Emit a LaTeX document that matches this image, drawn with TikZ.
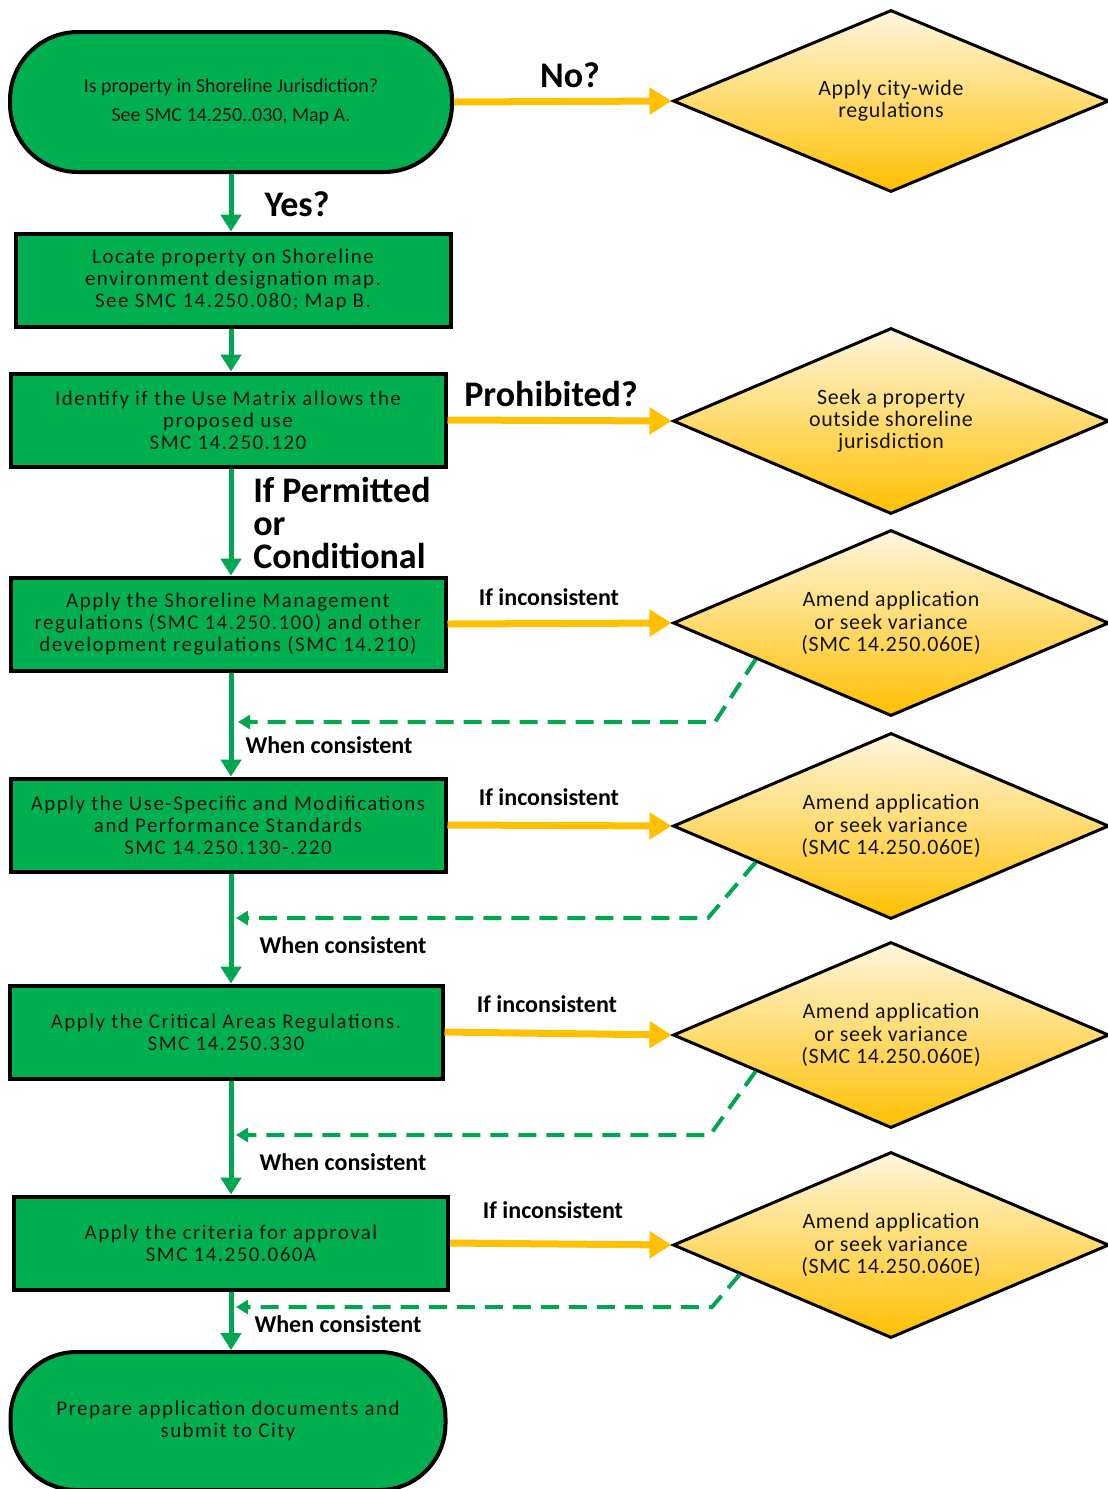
\documentclass[tikz,border=0pt]{standalone}
\usepackage{fontspec}
\setmainfont{Carlito}
\newfontfamily\boxfont[LetterSpace=7]{Carlito}
\newfontfamily\diafont[LetterSpace=3]{Carlito}
\usetikzlibrary{shapes.geometric,arrows.meta}

\definecolor{shoregreen}{HTML}{00B050}
\definecolor{arrowgreen}{HTML}{00A650}
\definecolor{arrowgold}{HTML}{FFC000}
\definecolor{diatop}{HTML}{FFF6DE}
\definecolor{diabot}{HTML}{FFC000}
\definecolor{boxtext}{HTML}{141414}
\newcommand{\px}{0.025cm}

\tikzset{
  procbox/.style={rectangle, draw=black, line width=4*\px, fill=shoregreen,
    text=boxtext, inner sep=0pt, align=center,
    minimum width=435*\px, minimum height=93*\px,
    font=\boxfont\fontsize{14.9}{15.6}\selectfont},
  termbox/.style={procbox, rounded corners=1.7cm},
  choice/.style={diamond, aspect=2.34, draw=black, line width=3*\px, top color=diatop,
    bottom color=diabot, inner sep=0pt, minimum width=436*\px,
    minimum height=186*\px, align=center, text=boxtext,
    font=\diafont\fontsize{15.6}{15.8}\selectfont},
  gostep/.style={draw=arrowgreen, line width=5*\px,
    -{Triangle[length=0.42cm,width=0.5cm]}},
  nostep/.style={draw=arrowgold, line width=7*\px,
    -{Triangle[length=0.55cm,width=0.65cm]}},
  backstep/.style={draw=arrowgreen, line width=4*\px,
    dash pattern=on 0.45cm off 0.25cm, -{Triangle[length=0.3cm,width=0.35cm]}},
  bigtag/.style={inner sep=0pt, font=\bfseries\fontsize{25.6}{23.5}\selectfont},
  smalltag/.style={inner sep=0pt, font=\bfseries\fontsize{17.1}{18}\selectfont}
}

\begin{document}
\begin{tikzpicture}[x=\px, y=-\px]
\useasboundingbox (0,0) rectangle (1108,1489);

% left column
\node[termbox, minimum width=442*\px, minimum height=140*\px,
  font=\fontsize{14.2}{20.6}\selectfont] (shoreq) at (231,102)
  {Is property in Shoreline Jurisdiction?\\See SMC 14.250..030, Map A.};
\node[procbox] (locate) at (233,280)
  {Locate property on Shoreline\\environment designation map.\\See SMC 14.250.080; Map B.};
\node[procbox] (matrix) at (228,420)
  {Identify if the Use Matrix allows the\\proposed use\\SMC 14.250.120};
\node[procbox] (mgmtregs) at (228,624)
  {Apply the Shoreline Management\\regulations (SMC 14.250.100) and other\\development regulations (SMC 14.210)};
\node[procbox] (usestds) at (228,825)
  {Apply the Use-Specific and Modifications\\and Performance Standards\\SMC 14.250.130-.220};
\node[procbox, minimum width=433*\px] (critical) at (226,1032)
  {Apply the Critical Areas Regulations.\\SMC 14.250.330};
\node[procbox, minimum width=434*\px] (criteria) at (231,1243)
  {Apply the criteria for approval\\SMC 14.250.060A};
\node[termbox, minimum height=138*\px, rounded corners=1.65cm] (prepare) at (228,1421)
  {Prepare application documents and\\submit to City};

% right column
\node[choice, minimum height=182*\px] (citywide) at (891,101) {Apply city-wide\\regulations};
\node[choice] (outside) at (891,421) {Seek a property\\outside shoreline\\jurisdiction};
\node[choice] (amend1) at (891,623) {Amend application\\or seek variance\\(SMC 14.250.060E)};
\node[choice] (amend2) at (891,826) {Amend application\\or seek variance\\(SMC 14.250.060E)};
\node[choice] (amend3) at (891,1035) {Amend application\\or seek variance\\(SMC 14.250.060E)};
\node[choice] (amend4) at (891,1245) {Amend application\\or seek variance\\(SMC 14.250.060E)};

% main flow
\coordinate (spine) at (231,0);
\draw[gostep] (shoreq.south -| spine) -- (locate.north -| spine);
\draw[gostep] (locate.south -| spine) -- (matrix.north -| spine);
\draw[gostep] (matrix.south -| spine) -- (mgmtregs.north -| spine);
\draw[gostep] (mgmtregs.south -| spine) -- (usestds.north -| spine);
\draw[gostep] (usestds.south -| spine) -- (critical.north -| spine);
\draw[gostep] (critical.south -| spine) -- (criteria.north -| spine);
\draw[gostep] (criteria.south -| spine) -- (prepare.north -| spine);

\draw[nostep] (shoreq.east) -- (citywide.west);
\draw[nostep] (matrix.east) -- (outside.west);
\draw[nostep] (mgmtregs.east) -- (amend1.west);
\draw[nostep] (usestds.east) -- (amend2.west);
\draw[nostep] (critical.east) -- (amend3.west);
\draw[nostep] (criteria.east) -- (amend4.west);

% return paths
\coordinate (bend1) at (715,722);  \coordinate (back1) at (238,722);
\coordinate (bend2) at (708,918);  \coordinate (back2) at (236,918);
\coordinate (bend3) at (710,1135); \coordinate (back3) at (236,1135);
\coordinate (bend4) at (712,1307); \coordinate (back4) at (236,1307);
\draw[backstep] (amend1.195) -- (bend1) -- (back1);
\draw[backstep] (amend2.195) -- (bend2) -- (back2);
\draw[backstep] (amend3.195) -- (bend3) -- (back3);
\draw[backstep] (amend4.191) -- (bend4) -- (back4);

% labels
\node[bigtag] (nolbl) at (570,75) {No?};
\node[bigtag] (yeslbl) at (297,204) {Yes?};
\node[bigtag] (prohiblbl) at (551,394) {Prohibited?};
\node[bigtag, anchor=west, align=left] (permitlbl) at (253,523) {If Permitted\\or\\Conditional};
\node[smalltag] (incons1) at (549,597) {If inconsistent};
\node[smalltag] (incons2) at (549,797) {If inconsistent};
\node[smalltag] (incons3) at (547,1004) {If inconsistent};
\node[smalltag] (incons4) at (553,1210) {If inconsistent};
\node[smalltag] (cons1) at (329,745) {When consistent};
\node[smalltag] (cons2) at (343,945) {When consistent};
\node[smalltag] (cons3) at (343,1162) {When consistent};
\node[smalltag] (cons4) at (338,1324) {When consistent};
\end{tikzpicture}
\end{document}
